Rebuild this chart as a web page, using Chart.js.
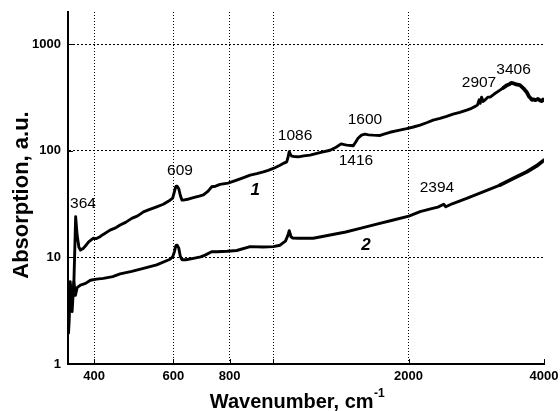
<!DOCTYPE html>
<html>
<head>
<meta charset="utf-8">
<script src="https://cdn.jsdelivr.net/npm/chart.js@4/dist/chart.umd.min.js"></script>
<style>
  html, body { margin: 0; padding: 0; background: #fff; }
  #wrap { width: 560px; height: 411px; }
</style>
</head>
<body>
<div id="wrap"><canvas id="c" width="560" height="411"></canvas></div>
<script>
// IR absorption spectra, curves 1 and 2 (wavenumber in cm^-1, absorption in a.u.)
const wavenumber1 = [351, 354, 357, 360.6, 364, 366.7, 370, 373, 379, 385, 389, 398, 405, 412, 420, 434, 445, 457, 470, 485,
  500, 515, 530, 551, 570, 590, 598, 603, 607, 609, 612, 617, 622, 627, 631, 650, 665, 685, 700, 717, 730, 745, 762,
  794, 830, 860, 889, 920, 951, 975, 1001, 1036, 1060, 1072, 1080, 1086, 1093, 1100, 1116, 1138, 1170, 1208, 1270, 1339, 1380,
  1416, 1440, 1458, 1490, 1506, 1525, 1544, 1572, 1600, 1630, 1668, 1729, 1770, 1818, 1900, 1981, 2050, 2122, 2200, 2268,
  2349, 2430, 2511, 2600, 2693, 2760, 2820, 2845, 2870, 2885, 2907, 2930, 2960, 3000, 3036, 3100, 3193, 3250, 3310, 3350,
  3380, 3406, 3440, 3470, 3537, 3600, 3662, 3700, 3724, 3760, 3785, 3830, 3879, 3920, 3950, 3980, 4000];
const absorption1 = [2.1, 5.5, 3.6, 5.5, 24.0, 16.2, 12.5, 11.7, 12.2, 13.2, 14.0, 15.1, 15.0, 15.6, 16.5, 18.0, 18.8, 20.1, 21.3, 23.2,
  24.5, 26.7, 28.0, 29.8, 31.5, 34.4, 36, 41, 45.5, 46.6, 46.5, 44, 38, 34.5, 34.4, 35.3, 36.3, 37.5, 38.5, 41.8, 45.9, 46.5, 48.3,
  49.7, 53, 56, 59, 61, 63.4, 65.5, 68.2, 73, 77, 78.7, 88, 98, 92, 89, 88, 87.7, 89.5, 91, 96, 101, 108,
  116, 114, 113, 112, 111, 120, 131, 140, 143, 141, 140, 139, 144, 149, 155, 161, 167, 174, 184, 194,
  201, 210, 220, 229, 240, 250, 262, 268, 300, 278, 318, 290, 300, 318, 318, 340, 370, 390, 412, 420,
  432, 430, 425, 418, 412, 385, 354, 325, 315, 300, 303, 298, 306, 296, 292, 302, 298];

const wavenumber2 = [351, 354, 357.4, 360.6, 363.5, 366.7, 373, 383, 392.5, 405, 419.5, 440, 457, 485, 515, 551, 590, 598, 603, 607,
  609, 612, 617, 622, 627, 640, 665, 690, 706, 730, 750, 790, 830, 889, 950, 1001, 1036, 1065, 1078, 1086, 1096, 1105, 1138, 1228, 1339,
  1450, 1561, 1700, 1851, 2003, 2122, 2250, 2324, 2394, 2420, 2500, 2693, 2900, 3193, 3420, 3662, 3850, 4000];
const absorption2 = [1.95, 5.9, 3.1, 5.9, 4.4, 5.2, 5.5, 5.7, 6.1, 6.25, 6.35, 6.6, 7.0, 7.4, 7.9, 8.5, 9.6, 10.1, 11.2, 12.6,
  13.0, 13.0, 12.2, 10.2, 9.5, 9.5, 9.8, 10.1, 10.5, 11.3, 11.3, 11.4, 11.6, 12.6, 12.5, 12.6, 13.0, 14.2, 16, 17.8, 15.6, 15.2, 15.1, 15.1, 16.2,
  17.3, 18.7, 20.5, 22.4, 24.4, 26.8, 28.6, 29.6, 31.5, 29.8, 31.8, 35.7, 40.5, 47.6, 55, 63.4, 72, 81.6];

// Axis ticks
const xTickValues = [400, 600, 800, 1000, 2000, 4000];
const xTickLabels = ['400', '600', '800', '', '2000', '4000'];
const yTickValues = [1, 10, 100, 1000];
const yTickLabels = ['1', '10', '100', '1000'];

// Band assignments written next to the peaks, anchored in data units
const peakTexts = ['364', '609', '1086', '1416', '1600', '2394', '2907', '3406'];
const peakTextWavenumber = [378, 621, 1119, 1528, 1600, 2313, 2868, 3422];
const peakTextLevel = [31.6, 64.4, 137, 79.9, 194, 44.6, 439, 569];

// Curve numbers
const curveTexts = ['1', '2'];
const curveTextWavenumber = [912, 1608];
const curveTextLevel = [42.7, 13.0];

// Noisy high-wavenumber ends are drawn heavier
const noisyFrom = [3250, 3000];

const FONT = "'Liberation Sans', Arial, Helvetica, sans-serif";
Chart.defaults.font.family = FONT;
Chart.defaults.color = '#000';

const toPoints = (xs, ys) => xs.map((x, i) => ({ x, y: ys[i] }));
const heavyAfter = start => ({ borderWidth: c => (c.p0.parsed.x >= start ? 3.8 : undefined) });

const decorations = {
  id: 'decorations',
  afterDraw(chart) {
    const { ctx, chartArea: area, scales: { x, y } } = chart;
    ctx.save();

    // short inward tick marks
    ctx.strokeStyle = '#000';
    ctx.lineWidth = 1;
    ctx.beginPath();
    xTickValues.forEach(v => {
      const px = Math.round(x.getPixelForValue(v)) + 0.5;
      ctx.moveTo(px, area.bottom);
      ctx.lineTo(px, area.bottom - 5);
    });
    yTickValues.forEach(v => {
      const py = Math.round(y.getPixelForValue(v)) + 0.5;
      ctx.moveTo(area.left, py);
      ctx.lineTo(area.left + 5, py);
    });
    ctx.stroke();

    ctx.fillStyle = '#000';
    ctx.textAlign = 'center';
    ctx.textBaseline = 'middle';

    // peak positions
    ctx.font = '15.5px ' + FONT;
    peakTexts.forEach((t, i) => {
      ctx.fillText(t, x.getPixelForValue(peakTextWavenumber[i]), y.getPixelForValue(peakTextLevel[i]));
    });

    // curve numbers
    ctx.font = 'italic bold 17px ' + FONT;
    curveTexts.forEach((t, i) => {
      ctx.fillText(t, x.getPixelForValue(curveTextWavenumber[i]), y.getPixelForValue(curveTextLevel[i]));
    });

    // y axis title
    ctx.save();
    ctx.font = 'bold 22px ' + FONT;
    ctx.translate(21.7, (area.top + area.bottom) / 2 + 7);
    ctx.rotate(-Math.PI / 2);
    ctx.fillText('Absorption, a.u.', 0, 0);
    ctx.restore();

    // x axis title with superscript unit power
    const main = 'Wavenumber, cm';
    const sup = '-1';
    ctx.font = 'bold 20px ' + FONT;
    const wMain = ctx.measureText(main).width;
    ctx.font = 'bold 12px ' + FONT;
    const wSup = ctx.measureText(sup).width;
    const cx = (area.left + area.right) / 2 - 9;
    const startX = cx - (wMain + wSup) / 2;
    ctx.textAlign = 'left';
    ctx.textBaseline = 'alphabetic';
    ctx.font = 'bold 20px ' + FONT;
    ctx.fillText(main, startX, 408);
    ctx.font = 'bold 12px ' + FONT;
    ctx.fillText(sup, startX + wMain + 0.5, 397);

    ctx.restore();
  }
};

new Chart(document.getElementById('c'), {
  type: 'line',
  data: {
    datasets: [
      { label: '1', data: toPoints(wavenumber1, absorption1), segment: heavyAfter(noisyFrom[0]) },
      { label: '2', data: toPoints(wavenumber2, absorption2), segment: heavyAfter(noisyFrom[1]) }
    ]
  },
  options: {
    responsive: false,
    devicePixelRatio: 1,
    animation: false,
    layout: { padding: { top: 12, right: 16, left: 0, bottom: 0 } },
    elements: {
      line: { borderColor: '#000', borderWidth: 2.9, tension: 0, borderJoinStyle: 'round', borderCapStyle: 'round' },
      point: { radius: 0, hoverRadius: 0 }
    },
    plugins: { legend: { display: false }, tooltip: { enabled: false } },
    scales: {
      x: {
        type: 'logarithmic',
        min: 350,
        max: 4000,
        afterBuildTicks: s => { s.ticks = xTickValues.map(v => ({ value: v })); },
        afterFit: s => { s.height = 47; s.paddingLeft = 0; s.paddingRight = 0; },
        ticks: {
          autoSkip: false,
          maxRotation: 0,
          padding: 5,
          font: { size: 13, weight: 'bold' },
          callback: v => xTickLabels[xTickValues.indexOf(v)]
        },
        grid: {
          drawTicks: false,
          lineWidth: 1,
          color: c => (c.tick && c.tick.value === 4000) ? 'rgba(0,0,0,0)' : '#000',
          borderDash: [1, 2]
        },
        border: { display: true, color: '#000', width: 2, dash: [1, 2] }
      },
      y: {
        type: 'logarithmic',
        min: 1,
        max: 2000,
        afterBuildTicks: s => { s.ticks = yTickValues.map(v => ({ value: v })); },
        afterFit: s => { s.width = 68; s.paddingTop = 0; s.paddingBottom = 0; },
        ticks: {
          padding: 7,
          font: { size: 13, weight: 'bold' },
          callback: v => yTickLabels[yTickValues.indexOf(v)]
        },
        grid: {
          drawTicks: false,
          lineWidth: 1,
          color: c => (c.tick && c.tick.value === 1) ? 'rgba(0,0,0,0)' : '#000',
          borderDash: [2, 2]
        },
        border: { display: true, color: '#000', width: 2, dash: [2, 2] }
      }
    }
  },
  plugins: [decorations]
});
</script>
</body>
</html>
